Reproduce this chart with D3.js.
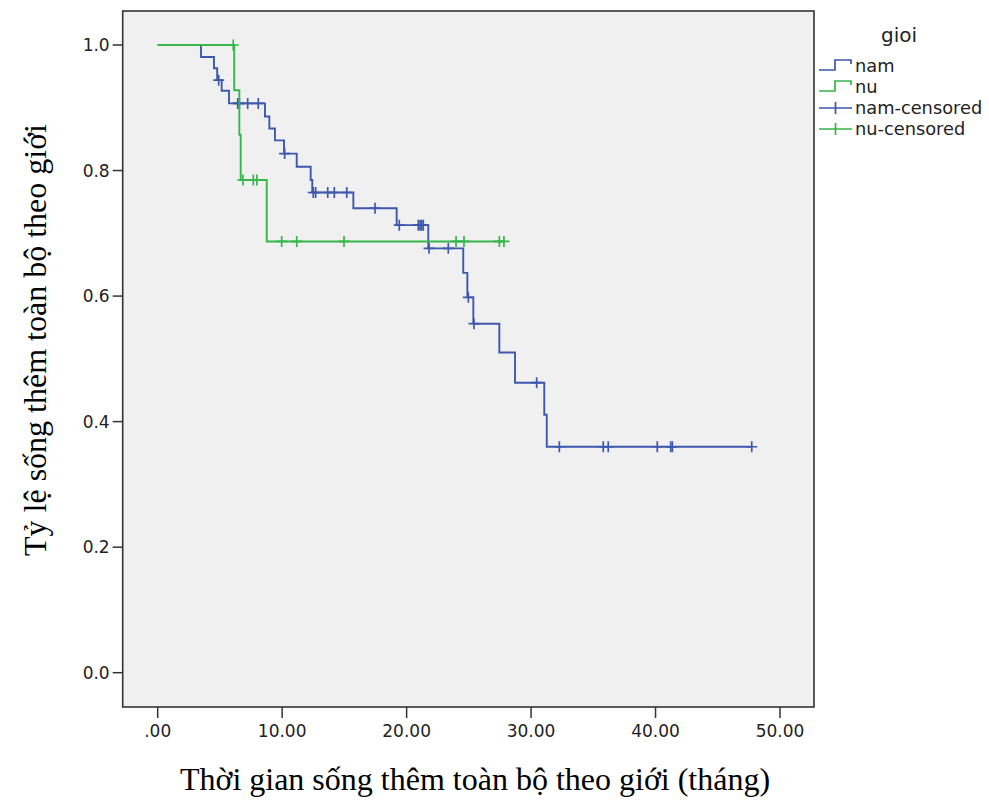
<!DOCTYPE html>
<meta charset="utf-8">
<script src="https://d3js.org/d3.v7.min.js"></script>
<style>
  body { margin: 0; background: #fff; }
  .tick-label { font-family: "DejaVu Sans", sans-serif; font-size: 17px; fill: #222; }
  .axis-title { font-family: "Liberation Serif", "Times New Roman", serif; font-size: 32px; fill: #000; }
  .legend text { font-family: "DejaVu Sans", sans-serif; font-size: 17.8px; fill: #222; }
</style>
<body>
<div id="chart"></div>
<script>
// nam (male): event times and survival after each event
var namTimes = [0, 3.48, 4.52, 4.78, 5.14, 5.73, 8.62, 8.97, 9.42, 10.15, 11.17, 12.29, 12.42, 15.72, 19.20, 21.74, 24.55, 24.88, 25.36, 27.45, 28.71, 31.06, 31.26];
var namSurv  = [1, 0.981, 0.963, 0.944, 0.927, 0.907, 0.886, 0.867, 0.848, 0.827, 0.806, 0.785, 0.765, 0.740, 0.713, 0.676, 0.637, 0.598, 0.556, 0.510, 0.462, 0.411, 0.360];
var namCensored = [4.90, 6.43, 6.56, 7.23, 8.08, 10.20, 12.50, 12.69, 13.66, 14.19, 15.19, 17.46, 19.41, 20.94, 21.08, 21.21, 21.34, 21.80, 23.35, 24.96, 25.41, 30.45, 32.27, 35.80, 36.20, 40.14, 41.22, 41.35, 47.73];

// nu (female)
var nuTimes = [0, 6.15, 6.56, 6.67, 8.76];
var nuSurv  = [1, 0.928, 0.857, 0.785, 0.687];
var nuCensored = [6.07, 6.85, 7.68, 7.97, 9.96, 11.17, 14.97, 23.97, 24.61, 27.45, 27.82];

var xTicks = [0, 10, 20, 30, 40, 50];
var xTickLabels = [".00", "10.00", "20.00", "30.00", "40.00", "50.00"];
var yTicks = [0, 0.2, 0.4, 0.6, 0.8, 1.0];
var yTickLabels = ["0.0", "0.2", "0.4", "0.6", "0.8", "1.0"];

var groups = ["nam", "nu"];
var colors = ["#3d58ad", "#35b64a"];

var width = 989, height = 800;
var frame = { left: 122.7, right: 814, top: 11, bottom: 707 };

var svg = d3.select("#chart").append("svg")
  .attr("width", width)
  .attr("height", height);

var x = d3.scaleLinear().domain([0, 50]).range([157.7, 780]);
var y = d3.scaleLinear().domain([0, 1]).range([672.7, 45]);

// plot background + frame
svg.append("rect")
  .attr("x", frame.left).attr("y", frame.top)
  .attr("width", frame.right - frame.left)
  .attr("height", frame.bottom - frame.top)
  .attr("fill", "#f0f0f0")
  .attr("stroke", "#333")
  .attr("stroke-width", 1.6);

// y ticks
yTicks.forEach(function (v, i) {
  svg.append("line")
    .attr("x1", frame.left - 10).attr("x2", frame.left)
    .attr("y1", y(v)).attr("y2", y(v))
    .attr("stroke", "#333").attr("stroke-width", 1.5);
  svg.append("text")
    .attr("class", "tick-label")
    .attr("x", frame.left - 13)
    .attr("y", y(v))
    .attr("dy", "0.36em")
    .attr("text-anchor", "end")
    .text(yTickLabels[i]);
});

// x ticks
xTicks.forEach(function (v, i) {
  svg.append("line")
    .attr("x1", x(v)).attr("x2", x(v))
    .attr("y1", frame.bottom).attr("y2", frame.bottom + 11)
    .attr("stroke", "#333").attr("stroke-width", 1.5);
  svg.append("text")
    .attr("class", "tick-label")
    .attr("x", x(v))
    .attr("y", 737)
    .attr("text-anchor", "middle")
    .text(xTickLabels[i]);
});

// axis titles
svg.append("text")
  .attr("class", "axis-title")
  .attr("x", 475).attr("y", 790)
  .attr("text-anchor", "middle")
  .text("Thời gian sống thêm toàn bộ theo giới (tháng)");

svg.append("text")
  .attr("class", "axis-title")
  .attr("transform", "translate(46,340) rotate(-90)")
  .attr("text-anchor", "middle")
  .text("Tỷ lệ sống thêm toàn bộ theo giới");

// survival value at time t (step function)
function survAt(times, surv, t) {
  var s = surv[0];
  for (var i = 0; i < times.length; i++) {
    if (times[i] <= t) s = surv[i];
  }
  return s;
}

var step = d3.line()
  .x(function (d) { return x(d[0]); })
  .y(function (d) { return y(d[1]); })
  .curve(d3.curveStepAfter);

var series = [
  { times: namTimes, surv: namSurv, cens: namCensored, color: colors[0] },
  { times: nuTimes, surv: nuSurv, cens: nuCensored, color: colors[1] }
];

series.forEach(function (s) {
  var pts = s.times.map(function (t, i) { return [t, s.surv[i]]; });
  var tEnd = d3.max(s.cens);
  pts.push([tEnd, s.surv[s.surv.length - 1]]);

  var g = svg.append("g");
  g.append("path")
    .datum(pts)
    .attr("d", step)
    .attr("fill", "none")
    .attr("stroke", s.color)
    .attr("stroke-width", 1.9);

  // censored marks (+)
  var h = 5.5;
  g.selectAll(".cens")
    .data(s.cens)
    .enter()
    .append("path")
    .attr("d", function (t) {
      var cx = x(t), cy = y(survAt(s.times, s.surv, t));
      return "M" + (cx - h) + "," + cy + "H" + (cx + h) + "M" + cx + "," + (cy - h) + "V" + (cy + h);
    })
    .attr("fill", "none")
    .attr("stroke", s.color)
    .attr("stroke-width", 1.7);
});

// legend
var legend = svg.append("g").attr("class", "legend");
legend.append("text")
  .attr("x", 899).attr("y", 42)
  .attr("text-anchor", "middle")
  .style("font-size", "20px")
  .text("gioi");

var legendItems = [
  { label: "nam", color: colors[0], kind: "line" },
  { label: "nu", color: colors[1], kind: "line" },
  { label: "nam-censored", color: colors[0], kind: "cens" },
  { label: "nu-censored", color: colors[1], kind: "cens" }
];

legendItems.forEach(function (d, i) {
  var by = 72 + i * 21;
  var my = by - 6;
  if (d.kind === "line") {
    legend.append("path")
      .attr("d", "M819," + (my + 4) + "H835V" + (my - 6) + "H851V" + (my - 2))
      .attr("fill", "none")
      .attr("stroke", d.color)
      .attr("stroke-width", 1.7);
  } else {
    legend.append("path")
      .attr("d", "M819," + my + "H852M835.5," + (my - 6) + "V" + (my + 6))
      .attr("fill", "none")
      .attr("stroke", d.color)
      .attr("stroke-width", 1.7);
  }
  legend.append("text")
    .attr("x", 855).attr("y", by)
    .text(d.label);
});
</script>
</body>
